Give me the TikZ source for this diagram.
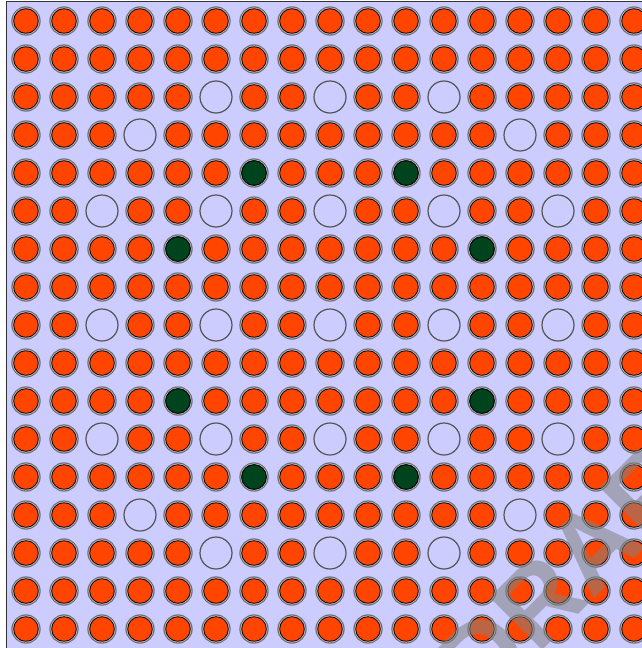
\documentclass[tikz,border=0pt]{standalone}
\usepackage{fontspec}
\setmainfont{Liberation Sans}
\definecolor{bglav}{HTML}{CCCCFF}
\definecolor{fuel}{HTML}{FF4500}
\definecolor{burn}{HTML}{00441E}
\definecolor{ringdark}{HTML}{6E6E6E}
\definecolor{ringlight}{HTML}{B4B4C8}
\definecolor{tube}{HTML}{555555}
\tikzset{
  outerring/.style={draw=ringdark, line width=1.3pt},
  innerring/.style={draw=ringlight, line width=0.8pt},
  fuelpin/.style={draw=black, line width=0.8pt, fill=fuel},
  burnpin/.style={draw=black, line width=0.8pt, fill=burn},
  tubepin/.style={draw=tube, line width=1.2pt, fill=bglav},
  watermark/.style={text=gray, text opacity=0.55, font=\bfseries\fontsize{108}{120}\selectfont, rotate=45}
}
\begin{document}
\begin{tikzpicture}[x=1pt,y=-1pt]
\useasboundingbox (0,0) rectangle (642,648);
\clip (0,0) rectangle (642,648);
\fill[white] (0,0) rectangle (642,648);
\draw[fill=bglav, draw=black!80, line width=1pt] (6.5,1.5) rectangle (660,670);
\foreach \c in {0,...,16}{
  \foreach \r in {0,...,16}{
    \coordinate (p-\c-\r) at ({26+38*\c},{21+38*\r});
    \draw[outerring] (p-\c-\r) circle[radius=14];
    \draw[innerring] (p-\c-\r) circle[radius=13.1];
    \draw[fuelpin] (p-\c-\r) circle[radius=12.3];
  }
}
\foreach \c/\r in {6/4,10/4,4/6,12/6,4/10,12/10,6/12,10/12}{
  \draw[burnpin] (p-\c-\r) circle[radius=12.3];
}
\foreach \c/\r in {5/2,8/2,11/2,3/3,13/3,2/5,5/5,8/5,11/5,14/5,2/8,5/8,8/8,11/8,14/8,2/11,5/11,8/11,11/11,14/11,3/13,13/13,5/14,8/14,11/14}{
  \draw[tubepin] (p-\c-\r) circle[radius=16];
}
\node[watermark] (wm) at (585,555) {DRAFT};
\end{tikzpicture}
\end{document}
